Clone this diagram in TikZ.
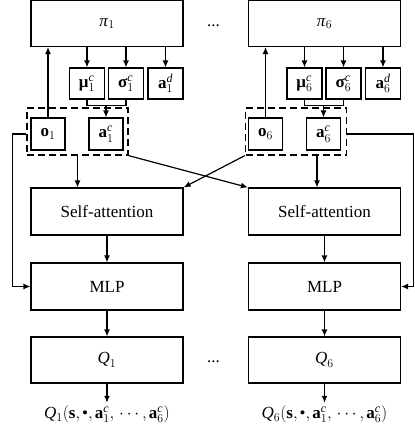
\documentclass[tikz,border=0pt]{standalone}
\usepackage{amsmath, amssymb}
\usepackage{fontspec}
\setmainfont{Liberation Serif}
\usetikzlibrary{calc, arrows.meta}

\newcommand{\bv}[1]{\text{\textbf{#1}}}
\newcommand{\iv}[1]{\text{\textit{#1}}}
\newcommand{\cm}{{,}\mkern2mu}

\begin{document}
\begin{tikzpicture}[x=1pt, y=-1pt, line width=1.2pt,
		box/.style={draw, minimum width=152pt, minimum height=46pt, inner sep=0pt, font=\fontsize{17}{20}\selectfont},
		small/.style={draw, minimum width=35pt, minimum height=31pt, inner sep=0pt, font=\fontsize{17}{20}\selectfont},
		grp/.style={draw, dash pattern=on 7pt off 4pt, minimum width=101pt, minimum height=47pt, inner sep=0pt},
		arr/.style={-{Latex[length=7pt, width=6pt]}},
		lab/.style={font=\fontsize{17}{20}\selectfont, inner sep=2pt}]
		\def\dx{217.5};
		\useasboundingbox (0,0) rectangle (415,429);

		% agent 1
		\node [box] (pi1) at (107,23.5) {$\iv{π}_1$};
		\node [small] (mu1) at (87,83.5) {$\bv{μ}_1^{\iv{c}}$};
		\node [small] (sig1) at (126,83.5) {$\bv{σ}_1^{\iv{c}}$};
		\node [small] (ad1) at (165.5,83.5) {$\bv{a}_1^{\iv{d}}$};
		\node [grp] (grp1) at (77.5,131.5) {};
		\node [small, minimum width=34pt, minimum height=32pt] (o1) at (48,134) {$\bv{o}_1$};
		\node [small, minimum width=34pt, minimum height=32pt] (ac1) at (106,134) {$\bv{a}_1^{\iv{c}}$};
		\node [box, minimum height=47pt] (sa1) at (107,211.5) {Self-attention};
		\node [box, minimum height=47pt] (mlp1) at (107,286.5) {MLP};
		\node [box] (q1) at (107,360) {$\iv{Q}_1$};
		\node [lab] (out1) at (107,414) {$\iv{Q}_1(\bv{s}\cm\text{\textbullet}\cm\bv{a}_1^{\iv{c}}\cm\cdots\cm\bv{a}_6^{\iv{c}})$};

		% agent 6
		\node [box] (pi6) at (107+\dx,23.5) {$\iv{π}_6$};
		\node [small] (mu6) at (87+\dx,83.5) {$\bv{μ}_6^{\iv{c}}$};
		\node [small] (sig6) at (126+\dx,83.5) {$\bv{σ}_6^{\iv{c}}$};
		\node [small] (ad6) at (165.5+\dx,83.5) {$\bv{a}_6^{\iv{d}}$};
		\node [grp] (grp6) at (78.5+\dx,131.5) {};
		\node [small, minimum width=34pt, minimum height=32pt] (o6) at (48+\dx,134) {$\bv{o}_6$};
		\node [small, minimum width=34pt, minimum height=32pt] (ac6) at (106+\dx,134) {$\bv{a}_6^{\iv{c}}$};
		\node [box, minimum height=47pt] (sa6) at (107+\dx,211.5) {Self-attention};
		\node [box, minimum height=47pt] (mlp6) at (107+\dx,286.5) {MLP};
		\node [box] (q6) at (107+\dx,360) {$\iv{Q}_6$};
		\node [lab] (out6) at (107+\dx,414) {$\iv{Q}_6(\bv{s}\cm\text{\textbullet}\cm\bv{a}_1^{\iv{c}}\cm\cdots\cm\bv{a}_6^{\iv{c}})$};

		\node [lab, inner sep=0pt] (dtop) at (213.5,26) {...};
		\node [lab, inner sep=0pt] (dbot) at (213.5,362) {...};

		% policy heads
		\foreach \n in {1,6} {
			\draw [arr] (mu\n |- pi\n.south) -- (mu\n.north);
			\draw [arr] (sig\n |- pi\n.south) -- (sig\n.north);
			\draw [arr] (ad\n |- pi\n.south) -- (ad\n.north);
			\draw (mu\n.south) -- ++(0,6) -| (sig\n.south);
			\coordinate (j\n) at ($(mu\n.south)!.5!(sig\n.south)+(0,6)$);
			\draw [arr] (ac\n.north |- j\n) -- (ac\n.north);
			\draw [arr] (o\n.north) -- (o\n.north |- pi\n.south);
			\draw [arr] (sa\n.south) -- (mlp\n.north);
			\draw [arr] (mlp\n.south) -- (q\n.north);
			\draw [arr] (q\n.south) -- (out\n.north);
		}

		% into the critics
		\draw [arr] (grp1.south) -- (grp1.south |- sa1.north);
		\draw [arr] ([xshift=21pt]grp6.south) -- ([xshift=21pt]grp6.south |- sa6.north);
		\draw [arr] (grp1.south east) -- (sa6.north west);
		\draw [arr] (grp6.south west) -- (sa1.north east);
		\draw [arr] (grp1.west |- o1) -- ++(-14,0) |- (mlp1.west);
		\draw [arr] (grp6.east |- ac6) -- ++(66.5,0) |- (mlp6.east);
	\end{tikzpicture}
\end{document}
